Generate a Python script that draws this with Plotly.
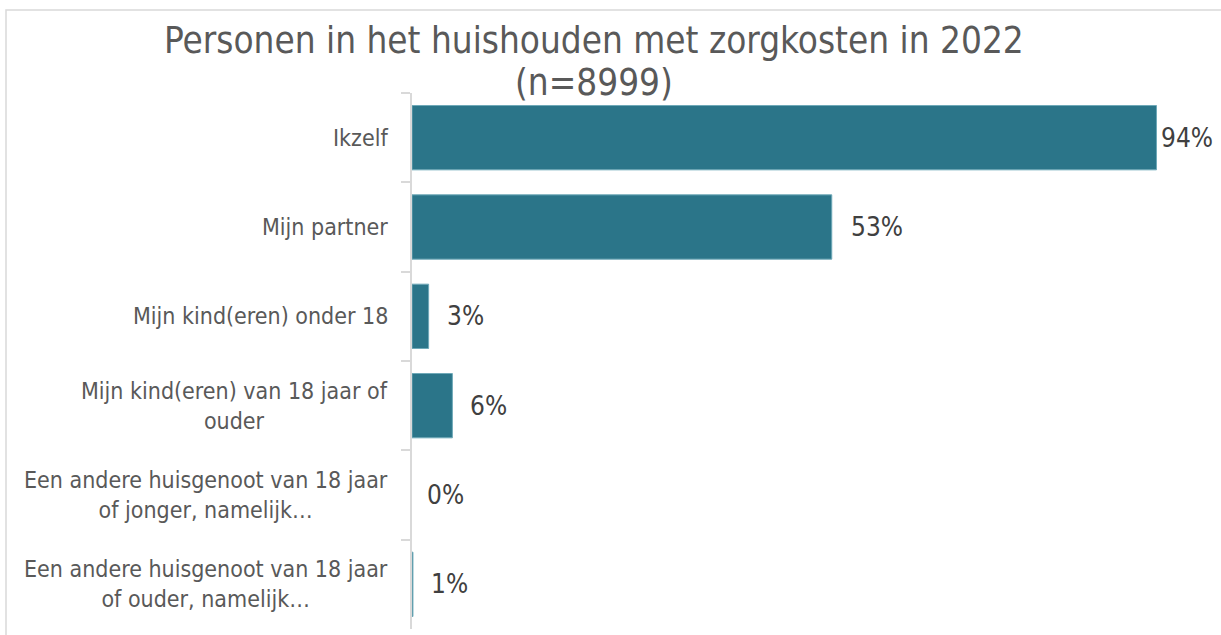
import plotly.graph_objects as go

# ---- data ----
categories = [
    "Ikzelf",
    "Mijn partner",
    "Mijn kind(eren) onder 18",
    "Mijn kind(eren) van 18 jaar of<br>ouder",
    "Een andere huisgenoot van 18 jaar<br>of jonger, namelijk…",
    "Een andere huisgenoot van 18 jaar<br>of ouder, namelijk…",
]
values = [94.0, 53.0, 2.1, 5.1, 0.0, 0.12]          # bar lengths (%)
value_labels = ["94%", "53%", "3%", "6%", "0%", "1%"]
title_line1 = "Personen in het huishouden met zorgkosten in 2022"
title_line2 = "(n=8999)"

# ---- style ----
FONT = "DejaVu Sans Condensed, Liberation Sans, Arial, sans-serif"
BAR = "#2b7589"
TXT = "#595959"
VAL_TXT = "#404040"
AX = "#d9d9d9"
LABEL_XSHIFT = [4, 18, 17, 17, 14, 17]
BAR_EDGE_W = [1, 1, 1, 1, 0, 1]

W, H = 1221, 635
ML, MR, MT, MB = 412, 17, 93, 6
PH = H - MT - MB


def py(px):
    return (H - MB - px) / PH


def pxx(px):
    return (px - ML) / (W - ML - MR)


fig = go.Figure()
fig.add_trace(go.Bar(
    x=values, y=categories, orientation="h",
    marker=dict(color=BAR, line=dict(color="#6fa9b8", width=BAR_EDGE_W)),
    hoverinfo="skip",
))

annotations = []
for cat, v, lab, sh in zip(categories, values, value_labels, LABEL_XSHIFT):
    annotations.append(dict(
        x=v, y=cat, xref="x", yref="y", text=lab, showarrow=False,
        xanchor="left", yanchor="middle", xshift=sh, borderpad=0,
        font=dict(family=FONT, size=26, color=VAL_TXT),
    ))
    annotations.append(dict(
        x=0, y=cat, xref="paper", yref="y", text=cat, showarrow=False,
        xanchor="right", yanchor="middle", xshift=-23, align="center", borderpad=0,
        font=dict(family=FONT, size=23, color=TXT),
    ))

annotations.append(dict(
    x=pxx(594), y=py(40), xref="paper", yref="paper", text=title_line1,
    showarrow=False, xanchor="center", yanchor="middle", borderpad=0,
    font=dict(family=FONT, size=36.6, color=TXT),
))
annotations.append(dict(
    x=pxx(594), y=py(83), xref="paper", yref="paper", text=title_line2,
    showarrow=False, xanchor="center", yanchor="middle", borderpad=0,
    font=dict(family=FONT, size=36.6, color=TXT),
))

fig.update_layout(
    width=W, height=H,
    margin=dict(l=ML, r=MR, t=MT, b=MB, autoexpand=False),
    paper_bgcolor="white", plot_bgcolor="white",
    bargap=0.28,
    showlegend=False,
    annotations=annotations,
    shapes=[dict(type="rect", xref="paper", yref="paper",
                 x0=pxx(6), x1=pxx(1240), y0=py(10), y1=py(660),
                 line=dict(color=AX, width=1.5), layer="below")],
    xaxis=dict(range=[0, 100], visible=False, fixedrange=True),
    yaxis=dict(
        autorange="reversed", showticklabels=False, showgrid=False, zeroline=False,
        showline=True, linecolor=AX, linewidth=2,
        ticks="outside", tickson="boundaries", ticklen=9, tickcolor=AX, tickwidth=1.5,
        fixedrange=True,
    ),
)

fig.write_html(
    "out.html",
    config={"displayModeBar": False},
    post_script="document.body.style.margin='0px';document.body.style.overflow='hidden';",
)
